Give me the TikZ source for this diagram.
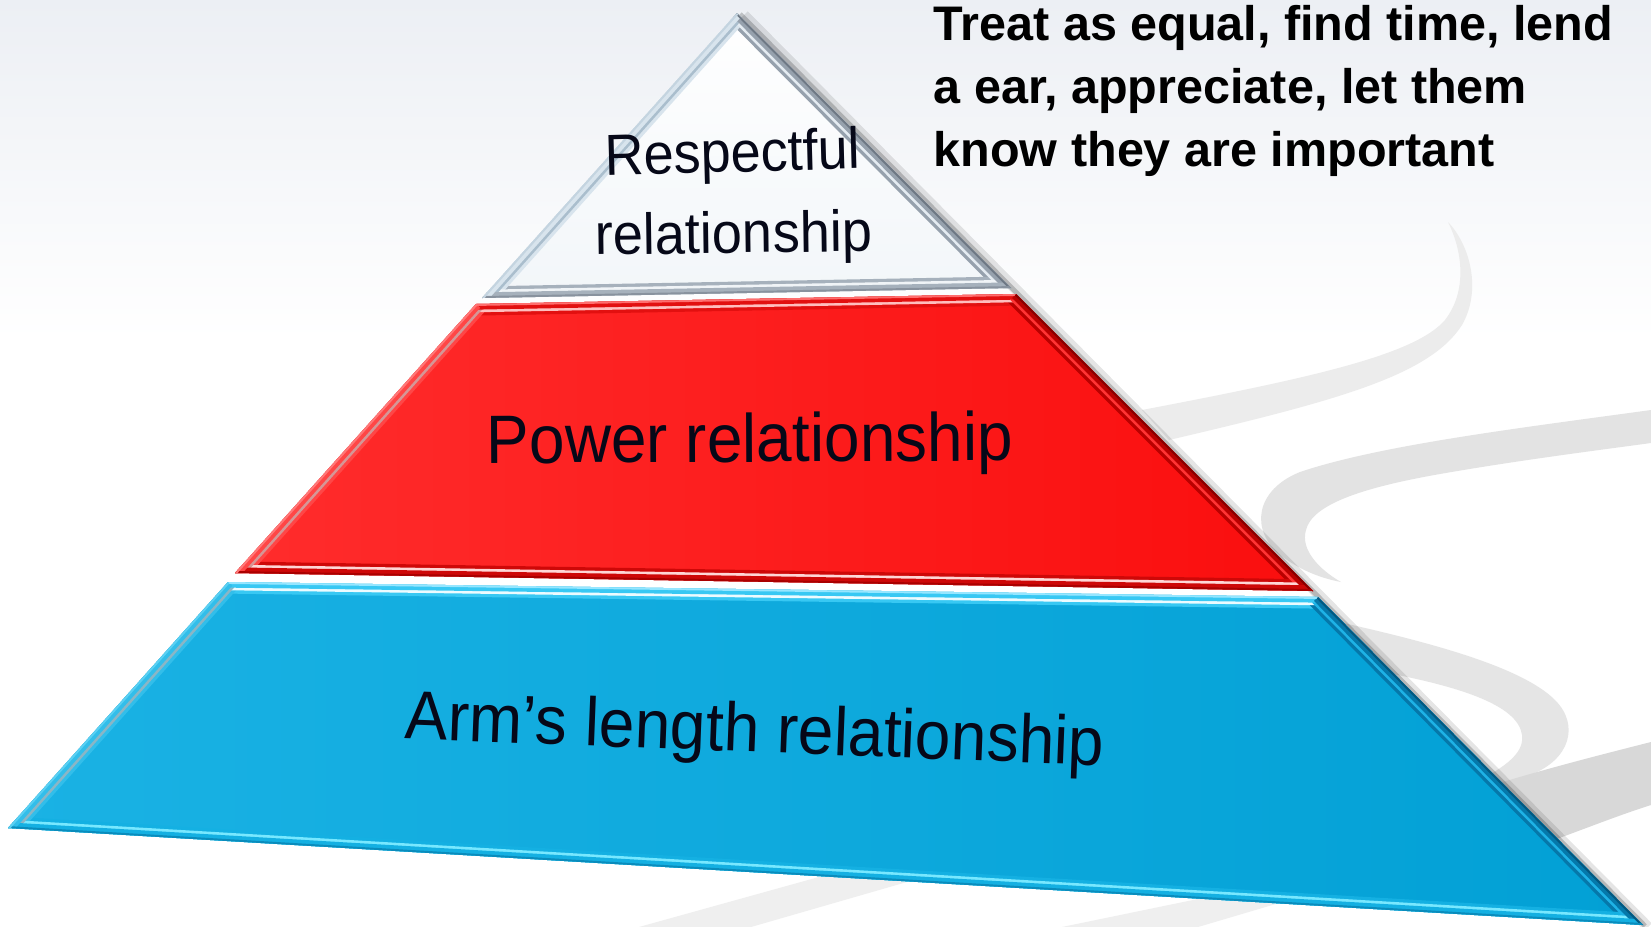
\documentclass[tikz,border=0pt]{standalone}
\usepackage{fontspec}
\setmainfont{Liberation Sans}
\usetikzlibrary{calc}
\definecolor{bgtop}{HTML}{ECEFF4}
\definecolor{labelcol}{HTML}{060818}
\definecolor{swA}{HTML}{ECECEC}
\definecolor{swB}{HTML}{E3E3E3}
\definecolor{swC}{HTML}{E5E5E5}
\definecolor{swD}{HTML}{D8D8D8}
\definecolor{swE}{HTML}{EFEFEF}
\newcommand\mybevel[1]{%
  \foreach \p/\q/\b/\s/\e in {#1} {\draw[line width=6.6pt,draw=\b] (\p)--(\q);}%
  \foreach \p/\q/\b/\s/\e in {#1} {\draw[line width=4.7pt,draw=\s] (\p)--(\q);}%
  \foreach \p/\q/\b/\s/\e in {#1} {\draw[line width=3.2pt,draw=\b] (\p)--(\q);}%
  \foreach \p/\q/\b/\s/\e in {#1} {\draw[line width=1.1pt,draw=\e] (\p)--(\q);}%
}
\tikzset{
  biglabel/.style={font=\fontsize{18.2}{22}\selectfont, text=labelcol, inner sep=0pt, anchor=base},
  smalllabel/.style={font=\fontsize{15.4}{19}\selectfont, text=labelcol, inner sep=0pt, anchor=base},
  note/.style={font=\bfseries\fontsize{13.8}{18}\selectfont, text=black, inner sep=0pt, anchor=base west},
}
\begin{document}
\begin{tikzpicture}[x=0.01cm,y=-0.01cm]
\useasboundingbox (0,0) rectangle (1651,927);
\fill[white] (0,0) rectangle (1651,927);
\shade[top color=bgtop, bottom color=white] (0,0) rectangle (1651,340);

% background swooshes
\fill[swA] (1448,222) .. controls (1470,245) and (1482,290) .. (1462,325)
  .. controls (1430,375) and (1340,400) .. (1169,440) -- (1142,410)
  .. controls (1310,378) and (1415,355) .. (1445,320)
  .. controls (1468,290) and (1462,250) .. (1448,222) -- cycle;
\fill[swB] (1651,410) .. controls (1520,428) and (1380,445) .. (1300,472)
  .. controls (1255,490) and (1250,530) .. (1280,555)
  .. controls (1300,570) and (1320,578) .. (1341,582)
  .. controls (1320,570) and (1300,550) .. (1306,530)
  .. controls (1312,505) and (1360,488) .. (1440,474)
  .. controls (1520,460) and (1600,450) .. (1651,443) -- cycle;
\fill[swC] (1330,620) .. controls (1420,640) and (1520,665) .. (1555,700)
  .. controls (1580,725) and (1570,760) .. (1530,775) -- (1480,800) -- (1470,785)
  .. controls (1500,770) and (1525,755) .. (1522,735)
  .. controls (1518,705) and (1460,685) .. (1360,668) -- cycle;
\fill[swD] (1651,742) .. controls (1600,755) and (1540,770) .. (1470,792) -- (1520,852)
  .. controls (1570,835) and (1610,818) .. (1651,805) -- cycle;
\fill[swE] (639,927) -- (880,860) -- (990,858) -- (751,927) -- cycle;
\fill[swE] (1062,927) -- (1290,880) -- (1340,885) -- (1198,927) -- cycle;

% pyramid corners
\coordinate (A) at (737,13);
\coordinate (WL) at (482,298);
\coordinate (WR) at (1011,288);
\coordinate (RTL) at (476,304);
\coordinate (RTR) at (1016,294);
\coordinate (RBR) at (1313,591);
\coordinate (RBL) at (235,573);
\coordinate (BTL) at (228,582);
\coordinate (BTR) at (1318,597);
\coordinate (BBR) at (1643,925);
\coordinate (BBL) at (8,828);

% shadow on the right side
\draw[line width=3pt, black, opacity=0.10] ($(A)+(7,2)$) -- ($(BBR)+(5,2)$);
\draw[line width=1.4pt, black, opacity=0.20] ($(A)+(3,1)$) -- ($(BBR)+(2,1)$);

% white tier
\begin{scope}
  \clip (A) -- (WR) -- (WL) -- cycle;
  \shade[top color=white, bottom color={rgb,255:red,242;green,246;blue,249}] (A) -- (WR) -- (WL) -- cycle;
  \mybevel{A/WR/{rgb,255:red,150;green,161;blue,173}/{rgb,255:red,228;green,235;blue,241}/{rgb,255:red,110;green,120;blue,132},
           WR/WL/{rgb,255:red,166;green,177;blue,188}/{rgb,255:red,240;green,244;blue,247}/{rgb,255:red,136;green,146;blue,158},
           WL/A/{rgb,255:red,216;green,228;blue,237}/{rgb,255:red,170;green,190;blue,205}/{rgb,255:red,196;green,212;blue,224}}
\end{scope}

% red tier
\begin{scope}
  \clip (RTL) -- (RTR) -- (RBR) -- (RBL) -- cycle;
  \shade[left color={rgb,255:red,255;green,44;blue,44}, right color={rgb,255:red,250;green,14;blue,14}] (RTL) -- (RTR) -- (RBR) -- (RBL) -- cycle;
  \mybevel{RTL/RTR/{rgb,255:red,226;green,16;blue,16}/{rgb,255:red,255;green,190;blue,190}/{rgb,255:red,255;green,110;blue,110},
           RTR/RBR/{rgb,255:red,186;green,0;blue,0}/{rgb,255:red,255;green,52;blue,52}/{rgb,255:red,136;green,0;blue,0},
           RBR/RBL/{rgb,255:red,206;green,8;blue,8}/{rgb,255:red,255;green,214;blue,214}/{rgb,255:red,170;green,0;blue,0},
           RBL/RTL/{rgb,255:red,255;green,70;blue,70}/{rgb,255:red,214;green,150;blue,150}/{rgb,255:red,255;green,120;blue,120}}
\end{scope}

% blue tier
\begin{scope}
  \clip (BTL) -- (BTR) -- (BBR) -- (BBL) -- cycle;
  \shade[left color={rgb,255:red,26;green,178;blue,228}, right color={rgb,255:red,2;green,160;blue,213}] (BTL) -- (BTR) -- (BBR) -- (BBL) -- cycle;
  \mybevel{BTL/BTR/{rgb,255:red,56;green,200;blue,243}/{rgb,255:red,236;green,251;blue,255}/{rgb,255:red,150;green,230;blue,255},
           BTR/BBR/{rgb,255:red,5;green,120;blue,170}/{rgb,255:red,30;green,178;blue,230}/{rgb,255:red,3;green,88;blue,128},
           BBR/BBL/{rgb,255:red,20;green,176;blue,226}/{rgb,255:red,120;green,232;blue,255}/{rgb,255:red,10;green,140;blue,188},
           BBL/BTL/{rgb,255:red,50;green,190;blue,234}/{rgb,255:red,138;green,182;blue,198}/{rgb,255:red,90;green,208;blue,243}}
\end{scope}

% labels
\node[smalllabel, rotate=1.5] (resp1) at (733,172) {\scalebox{1}[1.07]{Respectful}};
\node[smalllabel, rotate=0.8] (resp2) at (734,253) {\scalebox{1}[1.07]{relationship}};
\node[biglabel, rotate=0.3] (power) at (750,462) {\scalebox{1}[1.07]{Power relationship}};
\node[biglabel, rotate=-2.2] (arms) at (754,752) {\scalebox{1}[1.07]{Arm’s length relationship}};

\node[note] (n1) at (933,40) {Treat as equal, find time, lend};
\node[note] (n2) at (933,103) {a ear, appreciate, let them};
\node[note] (n3) at (933,166) {know they are important};
\end{tikzpicture}
\end{document}
